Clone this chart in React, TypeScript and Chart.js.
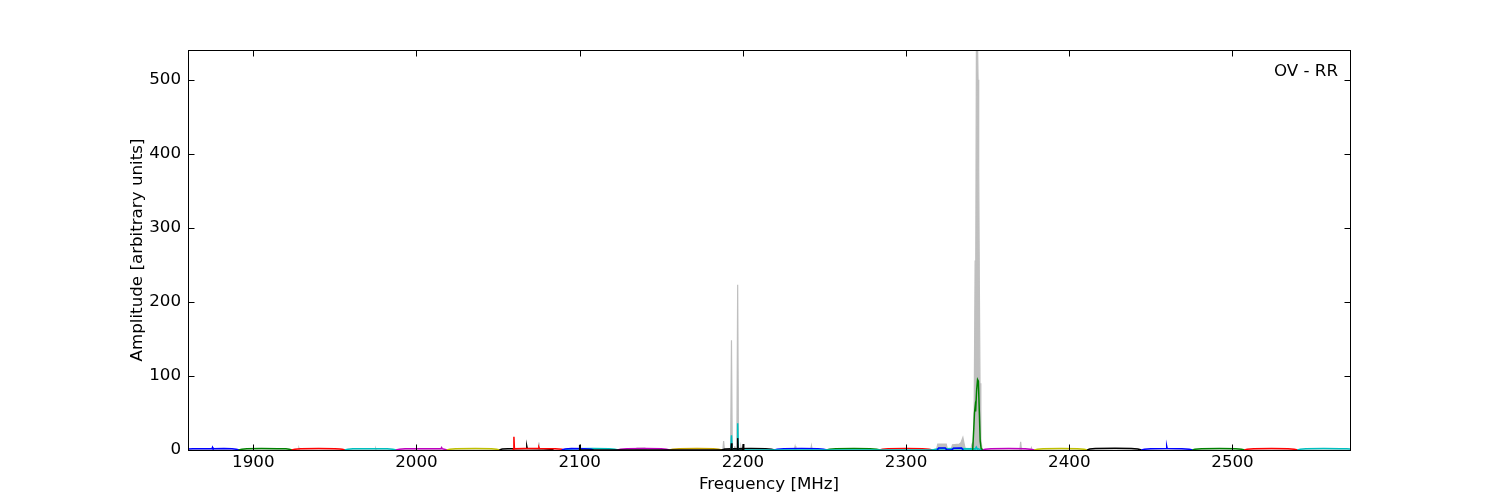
import React, { useEffect, useRef } from "react";
import { Chart, registerables } from "chart.js";

Chart.register(...registerables);

type Pt = [number, number];

// ---------- axes / labels ----------
const xTickValues = [1900, 2000, 2100, 2200, 2300, 2400, 2500];
const yTickValues = [0, 100, 200, 300, 400, 500];
const xLimits = [1860, 2572];
const yLimits = [0, 540];
const panelLabel = "OV - RR";
const xTitle = "Frequency [MHz]";
const yTitle = "Amplitude [arbitrary units]";

// ---------- grey envelope (frequency MHz, amplitude) ----------
const envelope: Pt[] = [
  [1860, 0], [1927.6, 0], [1928, 2.5], [1928.4, 0], [1974.6, 0], [1975, 2.2], [1975.4, 0],
  [2074.5, 0], [2075, 10], [2075.5, 0], [2134, 0], [2135, 2.6], [2140, 2.6], [2141, 0],
  [2187.7, 0], [2188.2, 12], [2188.7, 0], [2192.5, 0], [2193, 148], [2193.5, 0],
  [2194.6, 0], [2195, 5], [2195.4, 0], [2196.3, 0], [2196.8, 223], [2197.3, 0],
  [2198.4, 0], [2198.8, 4], [2199.2, 0], [2231.5, 0], [2232, 5], [2232.5, 0],
  [2241.5, 0], [2242, 6], [2242.5, 0], [2318.6, 0], [2319.4, 8], [2324.6, 8], [2325.4, 0],
  [2327.6, 0], [2328.4, 7], [2332.6, 8], [2333.6, 10], [2334.8, 17], [2335.6, 8], [2336.4, 0],
  [2339.6, 0], [2340.4, 8], [2341.6, 12], [2342.3, 255], [2342.7, 262], [2343.1, 560],
  [2343.7, 560], [2344.1, 500], [2344.5, 380], [2344.9, 220], [2345.3, 90], [2345.8, 15], [2346.6, 0],
  [2369.7, 0], [2370.2, 11], [2370.7, 0], [2376.4, 0], [2376.8, 3], [2377.2, 0], [2572, 0],
];

// ---------- sub-band spectra ----------
const band01: Pt[] = [[1860, 1.3], [1863, 1.7], [1870, 1.8], [1874.7, 1.8], [1875, 3.6], [1875.3, 1.8], [1882, 1.9], [1887, 1.7], [1889.5, 1.1], [1891.5, 0]];
const band02: Pt[] = [[1891, 0], [1893, 1.1], [1896, 1.7], [1905, 1.9], [1915, 1.8], [1920, 1.6], [1922, 1.0], [1923.7, 0]];
const band03: Pt[] = [[1923.5, 0], [1925.5, 1.1], [1929, 1.7], [1940, 1.9], [1950, 1.8], [1953, 1.5], [1954.5, 1.0], [1956.3, 0]];
const band04: Pt[] = [[1956, 0], [1958, 1.0], [1961, 1.6], [1972, 1.8], [1982, 1.7], [1985.5, 1.0], [1987.6, 0]];
const band05: Pt[] = [[1987.4, 0], [1989.5, 1.0], [1993, 1.7], [2005, 1.8], [2015, 1.8], [2015.4, 3.2], [2015.7, 1.8], [2017, 1.1], [2018.8, 0]];
const band06: Pt[] = [[2018.5, 0], [2020.5, 1.1], [2024, 1.7], [2036, 1.9], [2046, 1.7], [2049, 1.1], [2051.2, 0]];
const band07: Pt[] = [[2050.8, 0], [2052.5, 1.2], [2056, 1.8], [2067.3, 1.9], [2067.6, 5], [2067.9, 1.9], [2078, 1.8], [2082, 1.1], [2084, 0]];
const band08: Pt[] = [[2059.1, 0], [2059.4, 1.5], [2059.7, 18], [2060, 1.8], [2066, 1.9], [2074.7, 1.9], [2075, 3.5], [2075.3, 1.9], [2085, 1.8], [2089, 1.1], [2091, 0]];
const band09: Pt[] = [[2090.8, 0], [2092.5, 1.1], [2096, 1.7], [2108, 1.9], [2118, 1.7], [2121.5, 1.0], [2123.5, 0]];
const band09b: Pt[] = [[2089, 0], [2091, 1.3], [2095, 1.9], [2103, 1.8], [2107, 1.0], [2108.5, 0]];
const band10: Pt[] = [[2123.2, 0], [2125, 1.1], [2129, 1.7], [2140, 1.9], [2150, 1.7], [2153, 1.1], [2155.2, 0]];
const band11: Pt[] = [[2155, 0], [2157, 1.1], [2161, 1.7], [2172, 1.9], [2182, 1.7], [2185, 1.1], [2187.2, 0]];
const band12: Pt[] = [[2187, 0], [2189, 1.2], [2193, 1.8], [2205, 2.0], [2214, 1.8], [2217.5, 1.1], [2219.5, 0]];
const band13: Pt[] = [[2219.3, 0], [2221, 1.1], [2225, 1.8], [2236, 1.9], [2246, 1.8], [2249.5, 1.1], [2251.5, 0]];
const band14: Pt[] = [[2251.3, 0], [2253, 1.1], [2257, 1.7], [2268, 1.9], [2278, 1.7], [2282, 1.1], [2284, 0]];
const band15: Pt[] = [[2283.8, 0], [2285.5, 1.1], [2289, 1.7], [2300, 1.9], [2310, 1.7], [2314, 1.1], [2316.3, 0]];
const band16: Pt[] = [[2316.2, 0], [2318, 1.1], [2321, 1.7], [2332, 1.9], [2340, 1.8], [2344, 1.6], [2345, 1.0], [2347, 0]];
const band17: Pt[] = [[2346.8, 0], [2348.5, 1.1], [2352, 1.7], [2363, 1.9], [2373, 1.8], [2376, 1.1], [2378.8, 0]];
const band18: Pt[] = [[2378.6, 0], [2380.5, 1.1], [2384, 1.7], [2395, 1.9], [2405, 1.7], [2409, 1.1], [2411.2, 0]];
const band19: Pt[] = [[2411, 0], [2412.5, 1.3], [2416, 2.0], [2428, 2.2], [2438, 2.0], [2442, 1.2], [2444.3, 0]];
const band20: Pt[] = [[2444.2, 0], [2446, 1.1], [2450, 1.8], [2459.4, 1.9], [2459.7, 5], [2460, 1.9], [2469, 1.8], [2473.5, 1.1], [2475.6, 0]];
const band21: Pt[] = [[2475.4, 0], [2477, 1.1], [2481, 1.7], [2492, 1.9], [2502, 1.7], [2505.5, 1.1], [2507.5, 0]];
const band22: Pt[] = [[2507.3, 0], [2509, 1.1], [2513, 1.7], [2524, 1.9], [2534, 1.7], [2537.8, 1.1], [2540, 0]];
const band23: Pt[] = [[2539.8, 0], [2541.5, 1.1], [2545, 1.7], [2556, 1.9], [2566, 1.8], [2570, 1.6], [2572, 1.4]];

// ---------- narrow-band features ----------
const cyanSpikes: Pt[] = [
  [2192.6, 0], [2193, 20], [2193.4, 0], [2196.4, 0], [2196.8, 36], [2197.2, 0],
  [2319, 0], [2320, 2], [2324, 2], [2325, 0], [2328, 0], [2329, 2], [2334, 2], [2335, 0],
  [2342, 0], [2343, 4], [2344, 0],
];
const blueBumps: Pt[] = [[2319, 0], [2320, 2.6], [2324, 2.6], [2325, 0], [2328, 0], [2329, 2.4], [2334, 2.8], [2335, 0]];
const blackSpikes: Pt[] = [
  [2099.7, 0], [2100, 7], [2100.3, 0], [2192.7, 0], [2193, 9], [2193.3, 0],
  [2196.5, 0], [2196.8, 16], [2197.1, 0], [2199.9, 0], [2200.2, 8], [2200.5, 0],
];
const greenPeak: Pt[] = [
  [2340.8, 0], [2341.5, 30], [2341.9, 50], [2342.3, 58], [2342.6, 52], [2343.2, 80],
  [2343.8, 95], [2344.3, 93], [2344.9, 50], [2345.4, 12], [2346, 2], [2347, 0.5],
];

// ---------- styles ----------
const C = {
  b: "#0000ff", g: "#008000", r: "#ff0000", c: "#00bfbf", m: "#bf00bf", y: "#bfbf00", k: "#000000", o: "#c9a400",
};
const bandList: Pt[][] = [
  band01, band02, band03, band04, band05, band06, band07, band08, band09, band09b, band10, band11,
  band12, band13, band14, band15, band16, band17, band18, band19, band20, band21, band22, band23,
];
const bandColors = [
  C.b, C.g, C.r, C.c, C.m, C.y, C.k, C.r, C.c, C.b, C.m, C.o,
  C.k, C.b, C.g, C.r, C.c, C.m, C.y, C.k, C.b, C.g, C.r, C.c,
];

const FONT = "'DejaVu Sans', 'Liberation Sans', sans-serif";
const FS = 16.7;

const toXY = (pts: Pt[]) => pts.map(([x, y]) => ({ x, y }));

const framePlugin = {
  id: "mplFrame",
  afterDatasetsDraw(chart: any) {
    const { ctx, chartArea, scales } = chart;
    const l = Math.round(chartArea.left) + 0.5;
    const r = Math.round(chartArea.right) + 0.5;
    const t = Math.round(chartArea.top) + 0.5;
    const b = Math.round(chartArea.bottom) + 0.5;
    const tl = 6;
    ctx.save();
    ctx.strokeStyle = "#000";
    ctx.lineWidth = 1;
    ctx.beginPath();
    for (const v of xTickValues) {
      const px = Math.round(scales.x.getPixelForValue(v)) + 0.5;
      ctx.moveTo(px, b);
      ctx.lineTo(px, b - tl);
      ctx.moveTo(px, t);
      ctx.lineTo(px, t + tl);
    }
    for (const v of yTickValues) {
      const py = Math.round(scales.y.getPixelForValue(v)) + 0.5;
      ctx.moveTo(l, py);
      ctx.lineTo(l + tl, py);
      ctx.moveTo(r, py);
      ctx.lineTo(r - tl, py);
    }
    ctx.stroke();
    ctx.strokeRect(l, t, r - l, b - t);
    ctx.fillStyle = "#000";
    ctx.font = `${FS}px ${FONT}`;
    ctx.textAlign = "right";
    ctx.textBaseline = "alphabetic";
    ctx.fillText(panelLabel, 1338, 76);
    ctx.restore();
  },
};

export default function App() {
  const ref = useRef<HTMLCanvasElement | null>(null);

  useEffect(() => {
    if (!ref.current) return;
    const datasets: any[] = [];
    // back-to-front
    const push = (data: Pt[], color: string, extra: any = {}) => {
      datasets.push({
        data: toXY(data),
        borderColor: color,
        backgroundColor: color,
        borderWidth: 1.5,
        pointRadius: 0,
        tension: 0,
        fill: false,
        ...extra,
      });
    };
    push(envelope, "#bfbfbf", { fill: "origin", backgroundColor: "#bfbfbf", borderWidth: 1.2 });
    bandList.forEach((d, i) => push(d, bandColors[i]));
    push(cyanSpikes, C.c);
    push(blueBumps, C.b);
    push(blackSpikes, C.k);
    push(greenPeak, C.g);
    const n = datasets.length;
    datasets.forEach((d, i) => (d.order = n - i));

    const chart = new Chart(ref.current, {
      type: "line",
      data: { datasets },
      options: {
        animation: false,
        responsive: false,
        events: [],
        layout: { padding: { left: 118, right: 150, top: 50, bottom: 0 } },
        plugins: { legend: { display: false }, tooltip: { enabled: false } },
        scales: {
          x: {
            type: "linear",
            min: xLimits[0],
            max: xLimits[1],
            grid: { display: false, drawTicks: false },
            border: { display: false },
            afterBuildTicks: (s: any) => {
              s.ticks = xTickValues.map((v) => ({ value: v }));
            },
            afterFit: (s: any) => {
              s.height = 50;
            },
            ticks: {
              font: { family: FONT, size: FS },
              color: "#000",
              padding: 3,
              maxRotation: 0,
              autoSkip: false,
              callback: (v: any) => String(v),
            },
            title: { display: true, text: xTitle, font: { family: FONT, size: FS }, color: "#000", padding: { top: 0, bottom: 5 } },
          },
          y: {
            type: "linear",
            min: yLimits[0],
            max: yLimits[1],
            grid: { display: false, drawTicks: false },
            border: { display: false },
            afterBuildTicks: (s: any) => {
              s.ticks = yTickValues.map((v) => ({ value: v }));
            },
            afterFit: (s: any) => {
              s.width = 70;
            },
            ticks: { font: { family: FONT, size: FS }, color: "#000", padding: 7, autoSkip: false, callback: (v: any) => String(v) },
            title: { display: true, text: yTitle, font: { family: FONT, size: FS }, color: "#000", padding: { top: 10, bottom: 0 } },
          },
        },
      },
      plugins: [framePlugin],
    });
    return () => chart.destroy();
  }, []);

  return (
    <div style={{ position: "absolute", left: 0, top: 0, width: 1500, height: 500, background: "#fff" }}>
      <canvas ref={ref} width={1500} height={500} style={{ display: "block" }} />
    </div>
  );
}
